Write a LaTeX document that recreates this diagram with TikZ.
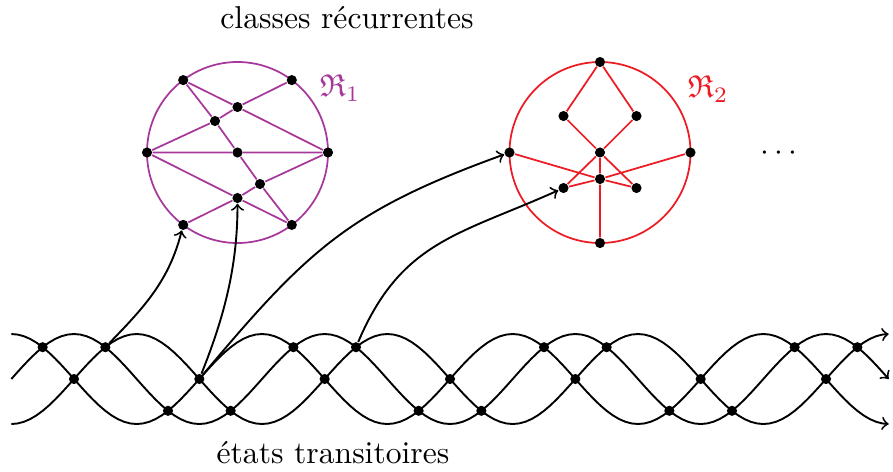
\documentclass[tikz,border=0pt]{standalone}
\usepackage{amssymb}
\definecolor{rpurple}{RGB}{166,56,156}
\definecolor{rred}{RGB}{237,28,36}
\begin{document}
\begin{tikzpicture}[x=0.316pt,y=-0.316pt,
  dot/.style={circle,fill=black,inner sep=0pt,minimum size=3.2pt},
  strand/.style={line width=0.6pt,->},
  link/.style={line width=0.6pt,->},
  pedge/.style={rpurple,line width=0.55pt},
  redge/.style={rred,line width=0.55pt},
  lbl/.style={inner sep=0pt}]
\useasboundingbox (0,0) rectangle (893,471);

% texts
\node[lbl,anchor=base] (top) at (347,28) {classes récurrentes};
\node[lbl,anchor=base] (bot) at (333,463) {états transitoires};
\node[lbl,text=rpurple] (r1) at (340,88) {$\mathfrak{R}_1$};
\node[lbl,text=rred] (r2) at (708,89) {$\mathfrak{R}_2$};
\node[lbl] (more) at (779,153) {$\cdots$};

% ---------- class 1 ----------
\coordinate (c1) at (237.5,152.5);
\draw[pedge] (c1) circle[radius=28.6pt];
\node[dot] (TL) at (183.2,80.1) {};
\node[dot] (TR) at (291.8,80.1) {};
\node[dot] (L)  at (147,152.5) {};
\node[dot] (R)  at (328,152.5) {};
\node[dot] (BL) at (183.2,224.9) {};
\node[dot] (BR) at (291.8,224.9) {};
\node[dot] (IT) at (237.5,107) {};
\node[dot] (IB) at (237.5,198) {};
\node[dot] (C)  at (237.5,152.5) {};
\node[dot] (P)  at (215,121) {};
\node[dot] (Q)  at (260,184) {};
\draw[pedge] (TL) -- (IT) (TL) -- (P) (TR) -- (IT) (IT) -- (P) (P) -- (L)
  (IT) -- (R) (P) -- (C) (L) -- (C) (C) -- (R) (C) -- (Q) (Q) -- (BR)
  (Q) -- (IB) (Q) -- (R) (IB) -- (L) (IB) -- (BL) (IB) -- (BR);

% ---------- class 2 ----------
\coordinate (c2) at (600,152.5);
\draw[redge] (c2) circle[radius=28.6pt];
\node[dot] (T2)  at (600,62) {};
\node[dot] (B2)  at (600,243) {};
\node[dot] (L2)  at (509.5,152.5) {};
\node[dot] (R2)  at (690.5,152.5) {};
\node[dot] (UL2) at (563.5,116) {};
\node[dot] (UR2) at (636.5,116) {};
\node[dot] (C2)  at (600,152.5) {};
\node[dot] (M2)  at (600,179) {};
\node[dot] (LL2) at (563.5,188) {};
\node[dot] (LR2) at (636.5,188) {};
\draw[redge] (T2) -- (UL2) (T2) -- (UR2) (UL2) -- (C2) (UR2) -- (C2)
  (C2) -- (M2) (M2) -- (B2) (C2) -- (LL2) (C2) -- (LR2)
  (L2) -- (M2) (M2) -- (LR2) (R2) -- (M2) (M2) -- (LL2);

% ---------- transient strands ----------
\draw[strand] plot[domain=-90:1170,samples=141,variable=\t] ({74+\t*0.696306},{379+45*sin(\t)});
\draw[strand] plot[domain=-90:1170,samples=141,variable=\t] ({74+\t*0.696306},{379-45*sin(\t)});
\draw[strand] plot[domain=-90:1170,samples=141,variable=\t] ({74+\t*0.696306},{379-45*cos(\t)});
\foreach \k in {0,...,3}{
  \node[dot] (ta\k) at ({42.67+250.67*\k},347.2) {};
  \node[dot] (tb\k) at ({105.33+250.67*\k},347.2) {};
}
\foreach \k in {0,1,2}{
  \node[dot] (ba\k) at ({168+250.67*\k},410.8) {};
  \node[dot] (bb\k) at ({230.67+250.67*\k},410.8) {};
}
\foreach \k in {0,...,6}{
  \node[dot] (m\k) at ({74+125.333*\k},379) {};
}

% ---------- links ----------
\draw[link] (tb0) .. controls +(40,-41) and +(-14,55) .. (BL);
\draw[link] (m1) .. controls +(24,-60) and +(0,70) .. (IB);
\draw[link] (m1) .. controls +(109,-130) and +(-160,58) .. (L2);
\draw[link] (tb1) .. controls +(45,-106) and +(-105,47) .. (LL2);
\end{tikzpicture}
\end{document}
